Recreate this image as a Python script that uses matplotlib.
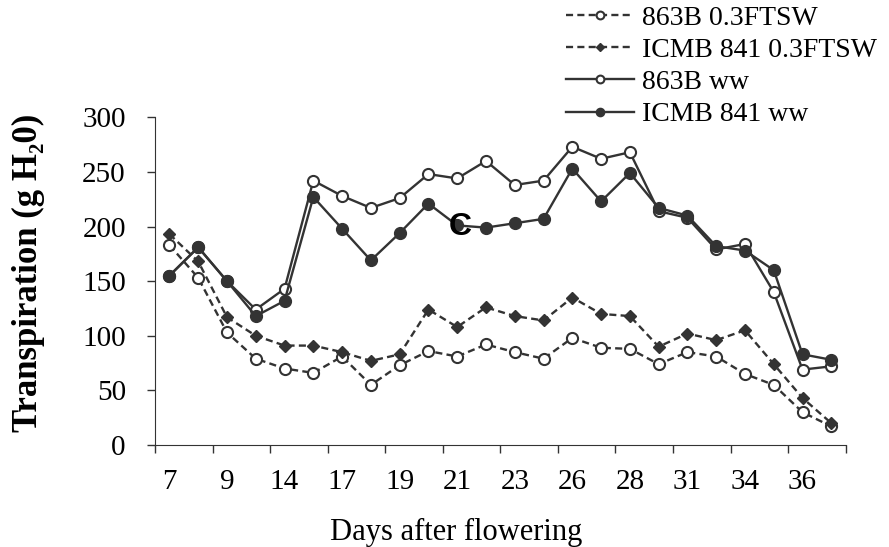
import matplotlib.pyplot as plt
from matplotlib.ticker import FixedLocator, NullFormatter

# 24 sampling dates, only every other one is labelled on the axis
tick_labels = ['7', '9', '14', '17', '19', '21', '23', '26', '28', '31', '34', '36']

b863_dry = [183, 153, 103, 79, 70, 66, 81, 55, 73, 86, 81, 92,
            85, 79, 98, 89, 88, 74, 85, 81, 65, 55, 30, 17]
icmb_dry = [193, 168, 117, 100, 91, 91, 85, 77, 83, 124, 108, 126,
            118, 114, 135, 120, 118, 90, 102, 96, 105, 74, 43, 20]
b863_ww = [155, 181, 150, 124, 143, 242, 228, 217, 226, 248, 244, 260,
           238, 242, 273, 262, 268, 214, 208, 179, 184, 140, 69, 72]
icmb_ww = [155, 181, 150, 118, 132, 227, 198, 169, 194, 221, 201, 199,
           203, 207, 253, 223, 249, 217, 210, 182, 178, 160, 83, 78]

plt.rcParams['font.family'] = ['Liberation Serif', 'DejaVu Serif']
col = '#333333'
x = list(range(len(b863_ww)))

fig = plt.figure(figsize=(8.89, 5.47), dpi=100)
ax = fig.add_axes([0.1744, 0.1865, 0.7769, 0.5991])

ax.plot(x, b863_dry, color=col, lw=1.7, ls=(0, (3, 1.8)), marker='o', ms=8,
        mfc='white', mec=col, mew=1.5, label='863B 0.3FTSW')
ax.plot(x, icmb_dry, color=col, lw=1.7, ls=(0, (3, 1.8)), marker='D', ms=6,
        mfc=col, mec=col, label='ICMB 841 0.3FTSW')
ax.plot(x, b863_ww, color=col, lw=1.7, marker='o', ms=8,
        mfc='white', mec=col, mew=1.5, label='863B ww')
ax.plot(x, icmb_ww, color=col, lw=1.7, marker='o', ms=8.5,
        mfc=col, mec=col, label='ICMB 841 ww')

ax.set_xlim(-0.5, len(x) - 0.5)
ax.set_ylim(0, 300)
ax.set_yticks(range(0, 301, 50))
ax.xaxis.set_major_locator(FixedLocator([i - 0.5 for i in range(0, len(x) + 1, 2)]))
ax.xaxis.set_major_formatter(NullFormatter())
ax.set_xticks(range(0, len(x), 2), minor=True)
ax.set_xticklabels(tick_labels, minor=True)
ax.tick_params(axis='x', which='major', length=6, width=1, color=col)
ax.tick_params(axis='x', which='minor', length=0, pad=17, labelsize=21)
ax.tick_params(axis='y', length=6, width=1, color=col, pad=15, labelsize=21)

for s in ['top', 'right']:
    ax.spines[s].set_visible(False)
for s in ['left', 'bottom']:
    ax.spines[s].set_color(col)

ax.text(10.1, 200, 'C', fontsize=23, fontweight='bold', family='Liberation Sans',
        ha='center', va='center')

fig.text(456 / 889, 1 - 540 / 547, 'Days after flowering', fontsize=22,
         ha='center', va='baseline')
fig.text(28 / 889, 1 - 273 / 547, 'Transpiration (g H\u20820)', fontsize=25,
         fontweight='bold', rotation=90, ha='center', va='center')

ax.legend(loc='upper left', bbox_to_anchor=(566 / 889, 1 - 5.5 / 547),
          bbox_transform=fig.transFigure, frameon=False, fontsize=20,
          borderpad=0, borderaxespad=0, handlelength=2.45, handletextpad=0.3,
          labelspacing=0.24, markerscale=0.7)

fig.savefig('out.png', dpi=100)
